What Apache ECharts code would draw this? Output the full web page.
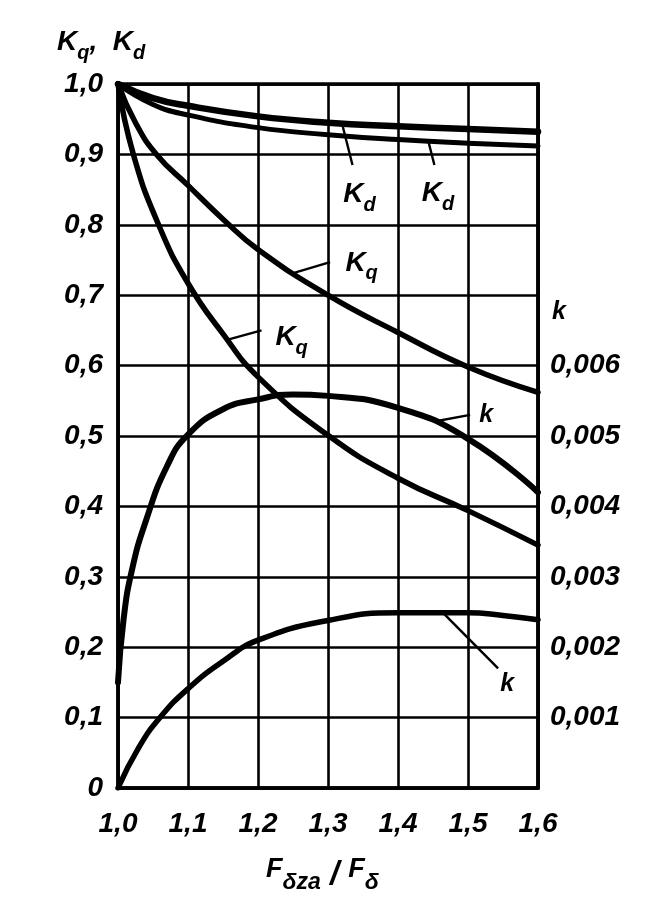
<!DOCTYPE html>
<html>
<head>
<meta charset="utf-8">
<script src="https://cdn.jsdelivr.net/npm/echarts@6/dist/echarts.min.js"></script>
<style>
html,body{margin:0;padding:0;background:#fff;}
#c{width:649px;height:903px;}
</style>
</head>
<body>
<div id="c"></div>
<script>
// ---- Data ----
const xTickLabels = ['1,0','1,1','1,2','1,3','1,4','1,5','1,6'];
const leftTickLabels = ['0','0,1','0,2','0,3','0,4','0,5','0,6','0,7','0,8','0,9','1,0'];
const rightTickLabels = ['','0,001','0,002','0,003','0,004','0,005','0,006','','','',''];

// K_d curves (left axis)
const kdUpper = [[1.0,1.0],[1.05,0.980],[1.1,0.969],[1.2,0.954],[1.3,0.945],[1.4,0.940],[1.5,0.936],[1.6,0.932]];
const kdLower = [[1.0,1.0],[1.05,0.971],[1.1,0.956],[1.2,0.938],[1.3,0.928],[1.4,0.921],[1.5,0.916],[1.6,0.912]];

// K_q curves (left axis)
const kqUpper = [[1.0,1.0],[1.025,0.945],[1.055,0.900],[1.1,0.856],[1.15,0.808],[1.2,0.765],[1.3,0.700],[1.4,0.647],[1.5,0.598],[1.6,0.562]];
const kqLower = [[1.0,1.0],[1.022,0.900],[1.058,0.800],[1.1,0.717],[1.15,0.645],[1.2,0.584],[1.3,0.501],[1.4,0.440],[1.5,0.394],[1.6,0.345]];

// k curves (right axis)
const kUpper = [[1.0,0.0015],[1.008,0.0024],[1.02,0.0031],[1.04,0.0038],[1.07,0.00457],[1.1,0.00502],[1.15,0.00538],[1.2,0.00552],[1.25,0.00559],[1.3,0.00557],[1.4,0.00540],[1.5,0.00496],[1.6,0.00420]];
const kLower = [[1.0,0.0],[1.03,0.00058],[1.06,0.00100],[1.1,0.00141],[1.15,0.00180],[1.2,0.00210],[1.3,0.00238],[1.4,0.00249],[1.5,0.00249],[1.55,0.00245],[1.6,0.00239]];

// Curve annotations (data coordinates in left-axis units): label position and leader line
const annoText = ['Kd','Kd','Kq','Kq','k','k'];
const annoLabelPos = [[1.345,0.838],[1.457,0.840],[1.348,0.741],[1.248,0.635],[1.526,0.529],[1.556,0.148]];
const annoLeaderFrom = [[1.320,0.944],[1.443,0.920],[1.249,0.731],[1.157,0.637],[1.454,0.521],[1.464,0.249]];
const annoLeaderTo = [[1.335,0.885],[1.452,0.885],[1.303,0.747],[1.205,0.650],[1.503,0.530],[1.543,0.170]];

const INK = '#000';
const FONT = "'Liberation Sans', Arial, sans-serif";

const base = {fontFamily: FONT, fontStyle: 'italic', fontWeight: 'bold', fill: INK, color: INK};
const richSub = {
  m: Object.assign({}, base, {fontSize: 28, lineHeight: 35, verticalAlign: 'top'}),
  s: Object.assign({}, base, {fontSize: 20, lineHeight: 35, verticalAlign: 'bottom'}),
  c: Object.assign({}, base, {fontSize: 28, lineHeight: 35, verticalAlign: 'top'}),
  lk: Object.assign({}, base, {fontSize: 25, lineHeight: 30})
};
function annoRich(t){
  if (t === 'Kd') return '{m|K}{s|d}';
  if (t === 'Kq') return '{m|K}{s|q}';
  return '{lk|k}';
}

const chart = echarts.init(document.getElementById('c'), null, {renderer: 'canvas'});

const curveSeries = (name, data, axis, width) => ({
  name, type: 'line', data, yAxisIndex: axis, smooth: 0.5,
  showSymbol: false, symbol: 'none', clip: true,
  lineStyle: {color: INK, width: width, cap: 'round', join: 'round'},
  z: 5, silent: true, animation: false
});

const labelFont = {fontFamily: FONT, fontStyle: 'italic', fontWeight: 'bold', fontSize: 28, color: INK};

chart.setOption({
  backgroundColor: '#fff',
  animation: false,
  grid: {left: 118, right: 111, top: 84, bottom: 115, show: true, borderColor: INK, borderWidth: 3.5, backgroundColor: 'transparent'},
  xAxis: {
    type: 'value', min: 1.0, max: 1.6, interval: 0.1,
    axisLine: {show: true, lineStyle: {color: INK, width: 3.5}},
    axisTick: {show: false},
    splitLine: {show: true, lineStyle: {color: INK, width: 2.6}},
    axisLabel: Object.assign({margin: 22, formatter: (v) => xTickLabels[Math.round((v - 1) * 10)] || ''}, labelFont)
  },
  yAxis: [
    {
      type: 'value', min: 0, max: 1.0, interval: 0.1,
      axisLine: {show: true, lineStyle: {color: INK, width: 3.5}},
      axisTick: {show: false},
      splitLine: {show: true, lineStyle: {color: INK, width: 2.6}},
      axisLabel: Object.assign({margin: 15, padding: [6, 0, 0, 0], formatter: (v) => leftTickLabels[Math.round(v * 10)] || ''}, labelFont)
    },
    {
      type: 'value', min: 0, max: 0.01, interval: 0.001, position: 'right',
      axisLine: {show: true, lineStyle: {color: INK, width: 3.5}},
      axisTick: {show: false},
      splitLine: {show: false},
      axisLabel: Object.assign({margin: 12, padding: [6, 0, 0, 0], formatter: (v) => rightTickLabels[Math.round(v * 1000)] || ''}, labelFont)
    }
  ],
  series: [
    curveSeries('Kd upper', kdUpper, 0, 6.5),
    curveSeries('Kd lower', kdLower, 0, 5),
    curveSeries('Kq upper', kqUpper, 0, 5.5),
    curveSeries('Kq lower', kqLower, 0, 5.5),
    curveSeries('k upper', kUpper, 1, 6),
    curveSeries('k lower', kLower, 1, 5.5),
    {
      name: 'leaders', type: 'line', yAxisIndex: 0, data: [], silent: true,
      markLine: {
        silent: true, symbol: ['none', 'none'], animation: false,
        lineStyle: {color: INK, width: 2.4, type: 'solid'},
        label: {show: false},
        data: annoLeaderFrom.map((a, i) => [{coord: a}, {coord: annoLeaderTo[i]}])
      }
    }
  ]
});

// Place annotation texts through the library's own scales
const annoGraphics = annoLabelPos.map((p, i) => {
  const px = chart.convertToPixel({xAxisIndex: 0, yAxisIndex: 0}, p);
  return {type: 'text', x: px[0], y: px[1], z: 20,
    style: {text: annoRich(annoText[i]), rich: richSub, align: 'center', verticalAlign: 'middle'}};
});

chart.setOption({
  graphic: [
    {type: 'text', left: 57, top: 28, style: {text: '{m|K}{s|q}{c|,  }{m|K}{s|d}', rich: richSub}},
    {type: 'text', left: 552, top: 300, style: {text: 'k', fontFamily: FONT, fontStyle: 'italic', fontWeight: 'bold', fontSize: 25, fill: INK}},
    {type: 'text', left: 266, top: 856, style: {
      text: '{F|F}{s|δza}{sl| / }{F|F}{s|δ}',
      rich: {
        F: Object.assign({}, base, {fontSize: 27, lineHeight: 38, verticalAlign: 'top'}),
        s: Object.assign({}, base, {fontSize: 23, lineHeight: 38, verticalAlign: 'bottom'}),
        sl: Object.assign({}, base, {fontSize: 33, lineHeight: 38, verticalAlign: 'middle'})
      }
    }}
  ].concat(annoGraphics)
});
</script>
</body>
</html>
